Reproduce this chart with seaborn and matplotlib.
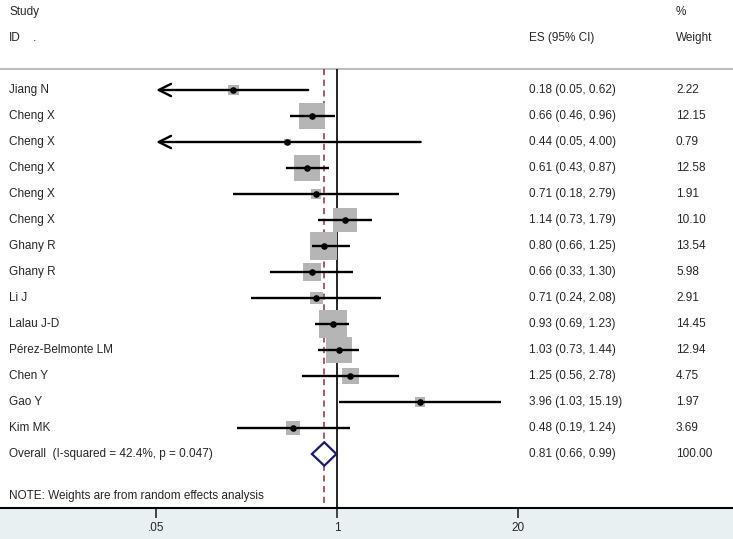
import numpy as np
import matplotlib
matplotlib.use("Agg")
import matplotlib.pyplot as plt
import seaborn as sns
from matplotlib.patches import Polygon

studies = ["Jiang N", "Cheng X", "Cheng X", "Cheng X", "Cheng X", "Cheng X",
           "Ghany R", "Ghany R", "Li J", "Lalau J-D", "Pérez-Belmonte LM",
           "Chen Y", "Gao Y", "Kim MK"]
es = [0.18, 0.66, 0.44, 0.61, 0.71, 1.14, 0.80, 0.66, 0.71, 0.93, 1.03, 1.25, 3.96, 0.48]
ci_low = [0.05, 0.46, 0.05, 0.43, 0.18, 0.73, 0.66, 0.33, 0.24, 0.69, 0.73, 0.56, 1.03, 0.19]
ci_high = [0.62, 0.96, 4.00, 0.87, 2.79, 1.79, 1.25, 1.30, 2.08, 1.23, 1.44, 2.78, 15.19, 1.24]
weights = [2.22, 12.15, 0.79, 12.58, 1.91, 10.10, 13.54, 5.98, 2.91, 14.45, 12.94, 4.75, 1.97, 3.69]

overall = (0.81, 0.66, 0.99)
overall_label = "Overall  (I-squared = 42.4%, p = 0.047)"
note = "NOTE: Weights are from random effects analysis"
tick_vals = [0.05, 1, 20]
tick_labels = [".05", "1", "20"]

sns.set_style("white")
plt.rcParams["font.family"] = ["Liberation Sans", "DejaVu Sans"]

fig = plt.figure(figsize=(7.33, 5.39), dpi=100)
fig.patch.set_facecolor("#e8f0f2")
ax = fig.add_axes([0, 31 / 539, 1, 508 / 539])
ax.set_facecolor("white")

rows = np.arange(len(studies))
y_over = len(studies)
x_left = 10 ** (-337 / 139)
x_right = 10 ** ((733 - 337) / 139)
ax.set_xscale("log")
ax.set_xlim(x_left, x_right)
y_bot = (508 - 90) / 26
ax.set_ylim(y_bot, -90 / 26)
y_sep = (69 - 90) / 26

# reference lines
ax.axhline(y_sep, color="#bdbdbd", lw=1.5)
ax.vlines(1, y_sep, y_bot, color="black", lw=1.2)
ax.vlines(overall[0], y_sep, y_bot, color="#8b2d3e", lw=1.1,
          linestyles=(0, (4, 3)))

# weight boxes (area proportional to weight)
sns.scatterplot(x=es, y=rows, size=weights,
                sizes=(28.2 * min(weights), 28.2 * max(weights)),
                marker="s", color="#b5b5b5", linewidth=0, legend=False,
                ax=ax, zorder=2)

# confidence intervals, arrow when clipped at the axis minimum
for y, lo, hi in zip(rows, ci_low, ci_high):
    if lo <= tick_vals[0]:
        ax.annotate("", xy=(tick_vals[0], y), xytext=(hi, y),
                    arrowprops=dict(arrowstyle="->", lw=1.7, color="black",
                                    mutation_scale=22, shrinkA=0, shrinkB=0),
                    zorder=3)
    else:
        ax.hlines(y, lo, hi, color="black", lw=1.7, zorder=3)

ax.scatter(es, rows, s=14, color="black", zorder=4)

# overall diamond
dia = Polygon([(overall[1], y_over), (overall[0], y_over - 0.45),
               (overall[2], y_over), (overall[0], y_over + 0.45)],
              closed=True, facecolor="white", edgecolor="#1b1b6b", lw=1.6, zorder=4)
ax.add_patch(dia)

# text columns
tr = ax.get_yaxis_transform()
fs = 8.5
x_id, x_es, x_w = 9 / 733, 529 / 733, 676 / 733
ax.text(x_id, -3.0, "Study", transform=tr, va="center", fontsize=fs)
ax.text(x_id, -2.0, "ID", transform=tr, va="center", fontsize=fs)
ax.text(x_id + 24 / 733, -2.0, ".", transform=tr, va="center", fontsize=fs)
ax.text(x_es, -2.0, "ES (95% CI)", transform=tr, va="center", fontsize=fs)
ax.text(x_w, -3.0, "%", transform=tr, va="center", fontsize=fs)
ax.text(x_w, -2.0, "Weight", transform=tr, va="center", fontsize=fs)

for y, name, e, lo, hi, w in zip(rows, studies, es, ci_low, ci_high, weights):
    ax.text(x_id, y, name, transform=tr, va="center", fontsize=fs)
    ax.text(x_es, y, f"{e:.2f} ({lo:.2f}, {hi:.2f})", transform=tr, va="center", fontsize=fs)
    ax.text(x_w, y, f"{w:.2f}", transform=tr, va="center", fontsize=fs)

ax.text(x_id, y_over, overall_label, transform=tr, va="center", fontsize=fs)
ax.text(x_es, y_over, f"{overall[0]:.2f} ({overall[1]:.2f}, {overall[2]:.2f})",
        transform=tr, va="center", fontsize=fs)
ax.text(x_w, y_over, "100.00", transform=tr, va="center", fontsize=fs)
ax.text(x_id, (496 - 90) / 26, note, transform=tr, va="center", fontsize=fs)

# axis
for s in ["top", "left", "right"]:
    ax.spines[s].set_visible(False)
ax.spines["bottom"].set_color("black")
ax.spines["bottom"].set_linewidth(1.5)
ax.set_yticks([])
ax.set_xticks(tick_vals)
ax.set_xticklabels(tick_labels)
ax.xaxis.set_minor_locator(matplotlib.ticker.NullLocator())
ax.tick_params(axis="x", direction="out", length=7, width=1.2, labelsize=fs,
               pad=3, bottom=True)

fig.savefig("out.png", dpi=100, facecolor=fig.get_facecolor())
